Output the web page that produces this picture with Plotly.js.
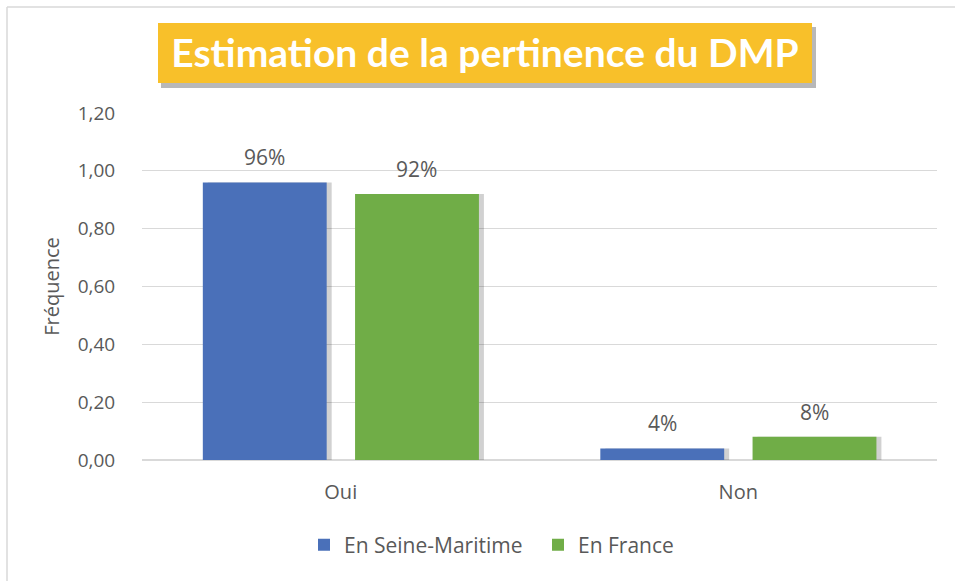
<!DOCTYPE html>
<html>
<head>
<meta charset="utf-8">
<script src="https://cdn.plot.ly/plotly-3.0.1.min.js"></script>
<style>html,body{margin:0;padding:0;background:#fff;}#chart{width:955px;height:581px;}</style>
</head>
<body>
<div id="chart"></div>
<script>
// ---- data ----
const categories = ['Oui', 'Non'];
const seriesNames = ['En Seine-Maritime', 'En France'];
const seineMaritime = [0.96, 0.04];
const france = [0.92, 0.08];
const yTicks = [0, 0.2, 0.4, 0.6, 0.8, 1.0, 1.2];
const chartTitle = 'Estimation de la pertinence du DMP';
const yTitle = 'Fréquence';

// ---- layout helpers ----
const W = 955, H = 581;
const L = 142, R = 18, T = 113, B = 121;
const pw = W - L - R, ph = H - T - B;
const px2x = p => (p - L) / pw;
const px2y = p => 1 - (p - T) / ph;
const catPx = pw / categories.length;

const barW = 0.3116;
const offBlue = -0.347;
const offGreen = 0.036;
const shadowShift = 5 / catPx;

const blue = '#4A70B9';
const green = '#70AD47';
const grey = '#595959';
const font = 'Open Sans, Liberation Sans, sans-serif';

const traces = [
  {type:'bar', x:categories, y:seineMaritime, offset:offBlue+shadowShift, width:barW,
   marker:{color:'rgba(0,0,0,0.18)'}, showlegend:false, hoverinfo:'skip'},
  {type:'bar', x:categories, y:france, offset:offGreen+shadowShift, width:barW,
   marker:{color:'rgba(0,0,0,0.18)'}, showlegend:false, hoverinfo:'skip'},
  {type:'bar', name:seriesNames[0], x:categories, y:seineMaritime, offset:offBlue, width:barW,
   marker:{color:blue}},
  {type:'bar', name:seriesNames[1], x:categories, y:france, offset:offGreen, width:barW,
   marker:{color:green}}
];

const annotations = [];
[[seineMaritime, offBlue], [france, offGreen]].forEach(([vals, off]) => {
  vals.forEach((v, i) => {
    annotations.push({
      x: categories[i], y: v, xref:'x', yref:'y',
      text: Math.round(v*100) + '%', showarrow:false,
      xshift: (off + barW/2) * catPx, yshift: 25, yanchor:'middle',
      font:{family:font, size:21, color:grey}
    });
  });
});

const shapes = [
  // chart border (top and left)
  {type:'line', xref:'paper', yref:'paper', x0:px2x(7), x1:px2x(955), y0:px2y(7), y1:px2y(7), line:{color:'#D9D9D9', width:1.5}},
  {type:'line', xref:'paper', yref:'paper', x0:px2x(7), x1:px2x(7), y0:px2y(7), y1:px2y(581), line:{color:'#D9D9D9', width:1.5}},
  // title box shadow
  {type:'rect', xref:'paper', yref:'paper', x0:px2x(161), x1:px2x(816), y0:px2y(27), y1:px2y(88), line:{width:0}, fillcolor:'rgba(0,0,0,0.28)', layer:'below'},
  // title box
  {type:'rect', xref:'paper', yref:'paper', x0:px2x(158), x1:px2x(812), y0:px2y(23), y1:px2y(83), line:{width:0}, fillcolor:'#F8C02A', layer:'below'}
];

const layout = {
  width: W, height: H,
  margin:{l:L, r:R, t:T, b:B},
  paper_bgcolor:'#fff', plot_bgcolor:'#fff',
  separators:', ',
  barmode:'overlay',
  title:{text:chartTitle, font:{family:'Lato, Open Sans, sans-serif', size:39, color:'#fff', weight:'bold'},
         xref:'container', yref:'container', x:485/W, y:1-53/H, xanchor:'center', yanchor:'middle'},
  xaxis:{type:'category', range:[-0.5, categories.length-0.5], showgrid:false, zeroline:false,
         showline:false, ticks:'outside', ticklen:14, tickcolor:'rgba(0,0,0,0)',
         tickfont:{family:font, size:20, color:grey}},
  yaxis:{range:[0, 1.2], tickvals:yTicks, tickformat:'.2f', showgrid:true, gridcolor:'#D9D9D9', gridwidth:1.3,
         zeroline:true, zerolinecolor:'#D9D9D9', zerolinewidth:1.3, showline:false,
         ticks:'outside', ticklen:22, tickcolor:'rgba(0,0,0,0)',
         tickfont:{family:font, size:19, color:grey},
         title:{text:yTitle, font:{family:font, size:20, color:grey}, standoff:12}},
  legend:{orientation:'h', x:px2x(304), y:px2y(545), xanchor:'left', yanchor:'middle',
          entrywidth:189, entrywidthmode:'pixels',
          font:{family:font, size:21, color:grey}, itemclick:false, traceorder:'normal'},
  annotations, shapes,
  showlegend:true
};

Plotly.newPlot('chart', traces, layout, {displayModeBar:false, staticPlot:true});
</script>
</body>
</html>
